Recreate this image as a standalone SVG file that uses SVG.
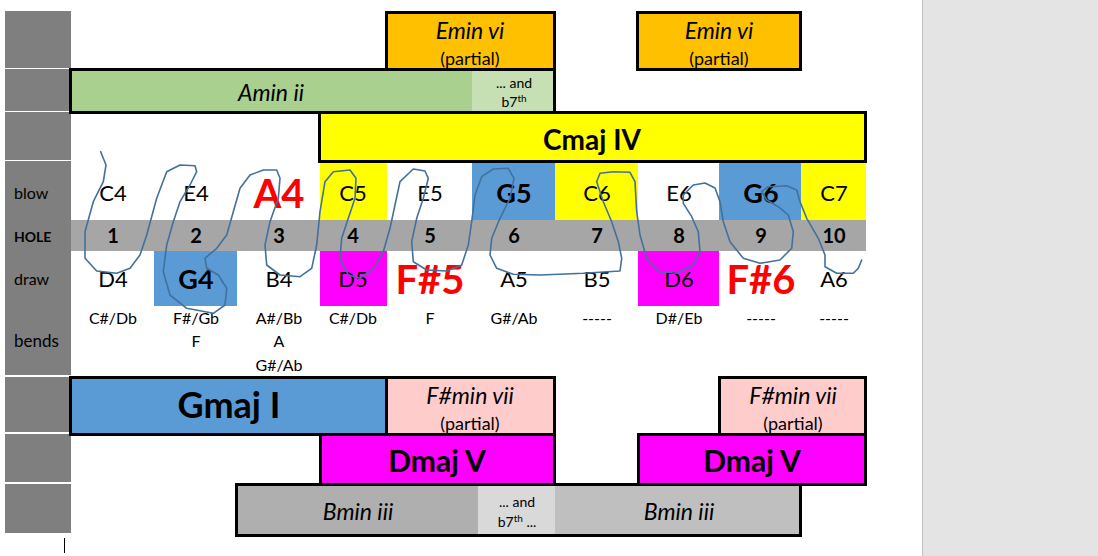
<svg xmlns="http://www.w3.org/2000/svg" width="1098" height="556" viewBox="0 0 1098 556">
<style>
text{font-family:Lato,"Liberation Sans",sans-serif;fill:#000;text-anchor:middle}
.it{font-style:italic}
.b{font-weight:bold}
.box{stroke:#000;stroke-width:3}
.lab{text-anchor:start;font-size:16px}
.side{fill:#7f7f7f}
.n{font-size:22px}
.h{font-size:20px;font-weight:bold}
.big{font-size:40px;font-weight:bold;fill:#ff0000}
.bn{font-size:27px;font-weight:bold}
.bd{font-size:16px}
.nm{font-size:23px;font-style:italic}
.pt{font-size:18px}
.sm{font-size:14px}
</style>
<rect width="1098" height="556" fill="#fff"/>
<g id="panel">
<rect x="922" y="0" width="176" height="556" fill="#e4e4e4"/>
<line x1="922.5" y1="0" x2="922.5" y2="556" stroke="#c0c0c0"/>
</g>
<g id="side">
<rect class="side" x="5" y="11" width="66" height="57"/>
<rect class="side" x="5" y="69" width="66" height="42"/>
<rect class="side" x="5" y="112" width="66" height="48"/>
<rect class="side" x="5" y="161" width="66" height="214"/>
<rect class="side" x="5" y="377" width="66" height="55"/>
<rect class="side" x="5" y="434" width="66" height="48"/>
<rect class="side" x="5" y="484" width="66" height="49"/>
<text class="lab" x="14" y="199">blow</text>
<text class="lab b" x="14" y="242" style="font-size:14px">HOLE</text>
<text class="lab" x="14" y="285">draw</text>
<text class="lab" x="14" y="347" style="font-size:17px">bends</text>
</g>
<g id="cells">
<rect x="320" y="162" width="67" height="58" fill="#ffff00"/>
<rect x="472" y="162" width="83" height="58" fill="#5b9bd5"/>
<rect x="555" y="162" width="83" height="58" fill="#ffff00"/>
<rect x="719" y="162" width="82" height="58" fill="#5b9bd5"/>
<rect x="801" y="162" width="65" height="58" fill="#ffff00"/>
<rect x="71" y="220" width="795" height="31" fill="#a6a6a6"/>
<rect x="154" y="251" width="83" height="55" fill="#5b9bd5"/>
<rect x="320" y="251" width="67" height="55" fill="#ff00ff"/>
<rect x="638" y="251" width="81" height="55" fill="#ff00ff"/>
</g>
<g id="blow">
<text class="n" x="113" y="201">C4</text>
<text class="n" x="196" y="201">E4</text>
<text class="big" x="279" y="208">A4</text>
<text class="n" x="353" y="201">C5</text>
<text class="n" x="430" y="201">E5</text>
<text class="bn" x="514" y="203">G5</text>
<text class="n" x="597" y="201">C6</text>
<text class="n" x="679" y="201">E6</text>
<text class="bn" x="761" y="203">G6</text>
<text class="n" x="834" y="201">C7</text>
</g>
<g id="holes">
<text class="h" x="113" y="243">1</text>
<text class="h" x="196" y="243">2</text>
<text class="h" x="279" y="243">3</text>
<text class="h" x="353" y="243">4</text>
<text class="h" x="430" y="243">5</text>
<text class="h" x="514" y="243">6</text>
<text class="h" x="597" y="243">7</text>
<text class="h" x="679" y="243">8</text>
<text class="h" x="761" y="243">9</text>
<text class="h" x="834" y="243">10</text>
</g>
<g id="draw">
<text class="n" x="113" y="287">D4</text>
<text class="bn" x="196" y="289">G4</text>
<text class="n" x="279" y="287">B4</text>
<text class="n" x="353" y="287">D5</text>
<text class="big" x="430" y="294">F#5</text>
<text class="n" x="514" y="287">A5</text>
<text class="n" x="597" y="287">B5</text>
<text class="n" x="679" y="287">D6</text>
<text class="big" x="761" y="294">F#6</text>
<text class="n" x="834" y="287">A6</text>
</g>
<g id="bends">
<text class="bd" x="113" y="324">C#/Db</text>
<text class="bd" x="196" y="324">F#/Gb</text>
<text class="bd" x="196" y="347">F</text>
<text class="bd" x="279" y="324">A#/Bb</text>
<text class="bd" x="279" y="347">A</text>
<text class="bd" x="279" y="371">G#/Ab</text>
<text class="bd" x="353" y="324">C#/Db</text>
<text class="bd" x="430" y="324">F</text>
<text class="bd" x="514" y="324">G#/Ab</text>
<text class="bd" x="597" y="324">-----</text>
<text class="bd" x="679" y="324">D#/Eb</text>
<text class="bd" x="761" y="324">-----</text>
<text class="bd" x="834" y="324">-----</text>
</g>
<g id="emin1">
<rect class="box" x="386.5" y="12.5" width="168" height="57" fill="#ffc000"/>
<text class="nm" x="470" y="39">Emin vi</text>
<text class="pt" x="470" y="65">(partial)</text>
</g>
<g id="emin2">
<rect class="box" x="637.5" y="12.5" width="163" height="57" fill="#ffc000"/>
<text class="nm" x="719" y="39">Emin vi</text>
<text class="pt" x="719" y="65">(partial)</text>
</g>
<g id="amin">
<rect class="box" x="70.5" y="69.5" width="484" height="43" fill="#a9d08e"/>
<rect x="472" y="71" width="81" height="40" fill="#c6e0b4"/>
<text class="nm" x="271" y="101">Amin ii</text>
<text class="sm" x="514" y="88">... and</text>
<text class="sm" x="514" y="107">b7<tspan font-size="10" dy="-5">th</tspan></text>
</g>
<g id="cmaj">
<rect class="box" x="319.5" y="112.5" width="546" height="49" fill="#ffff00"/>
<text class="b" x="592" y="150" font-size="28">Cmaj IV</text>
</g>
<g id="gmaj">
<rect class="box" x="70.5" y="377.5" width="316" height="57" fill="#5b9bd5"/>
<text class="b" x="229" y="418" font-size="36">Gmaj I</text>
</g>
<g id="fsmin1">
<rect class="box" x="386.5" y="377.5" width="168" height="57" fill="#ffcccc"/>
<text class="nm" x="470" y="404">F#min vii</text>
<text class="pt" x="470" y="430">(partial)</text>
</g>
<g id="fsmin2">
<rect class="box" x="719.5" y="377.5" width="146" height="57" fill="#ffcccc"/>
<text class="nm" x="793" y="404">F#min vii</text>
<text class="pt" x="793" y="430">(partial)</text>
</g>
<g id="dmaj1">
<rect class="box" x="320.5" y="434.5" width="234" height="50" fill="#ff00ff"/>
<text class="b" x="437" y="472" font-size="30">Dmaj V</text>
</g>
<g id="dmaj2">
<rect class="box" x="638.5" y="434.5" width="227" height="50" fill="#ff00ff"/>
<text class="b" x="752" y="472" font-size="30">Dmaj V</text>
</g>
<g id="bmin">
<rect class="box" x="236.5" y="484.5" width="564" height="51" fill="#bfbfbf"/>
<rect x="238" y="486" width="240" height="48" fill="#afafaf"/>
<rect x="478" y="486" width="77" height="48" fill="#d9d9d9"/>
<text class="nm" x="358" y="520">Bmin iii</text>
<text class="nm" x="679" y="520">Bmin iii</text>
<text class="sm" x="517" y="507">... and</text>
<text class="sm" x="517" y="527">b7<tspan font-size="10" dy="-5">th</tspan><tspan dy="5"> ...</tspan></text>
</g>
<g id="connectors">
<polyline fill="none" stroke="#41719c" stroke-width="1.6" stroke-linejoin="round" stroke-linecap="round" points="100.7,151.7 106,165 103.3,181.7 93.3,201.7 85,231.7 85,258.3 96.7,271 116.7,273.3 130,268.3 140,255 146.7,235 156.7,198.3 166.7,171.7 180,165 195,165.7 196.7,171.7 190,185 180,201.7 173.3,221.7 166.7,245 163.3,271.7 170,295 186.7,308.3 213.3,313.3 225,305 226.7,288.3 218.3,275 206.7,268.3 205,258.3 216.7,248.3 226.7,235 233.3,211.7 240,188.3 250,175 263.3,170 276.7,170 280,178.3 278.3,198.3 270,221.7 265,245 266.7,265 280,275 300,276.7 311.7,268.3 316.7,245 320,211.7 325,181.7 333.3,171.7 350,170 356,178.3 355,198.3 348.3,218.3 341.7,238.3 340,258.3 348.3,275 360,278.3 373.3,268.3 383.3,251.7 390,228.3 395,205 400,181.7 413.3,169 425,171 428.3,178.3 423.3,198.3 416.7,218.3 411.7,241.7 413.3,261.7 426.7,270 446.7,271 461.7,265 468.3,245 471.7,221.7 475,195 481.7,176.7 493.3,169 508.3,168.3 514,178.3 510,198.3 500,218.3 491.7,238.3 490,255 496.7,268.3 513.3,274.3 540,275 583.3,273.3 620,271 621.7,258.3 618.3,241.7 611.7,221.7 603.3,201.7 596.7,181.7 600,173.3 613.3,171.7 630,172.3 635,181.7 636.7,211.7 640,235 646.7,258.3 660,271.7 676.7,273.3 693.3,265 700,251.7 698.3,231.7 691.7,216.7 683.3,203.3 683.3,195 693.3,185 705,183 715,188 720,201.7 723.3,221.7 730,241.7 743.3,258.3 760,263.3 780,260 791.7,248.3 793.3,231.7 788.3,215 778.3,206.7 766.7,200 761.7,191.7 768.3,186.7 786.7,185.7 796.7,190 800,201.7 806.7,218.3 818.3,238.3 825,255 825,266.7 836.7,273.3 853.3,273.3 858.3,268.3 861.7,260"/>
</g>
<line x1="64.5" y1="538" x2="64.5" y2="553" stroke="#000"/>
</svg>
